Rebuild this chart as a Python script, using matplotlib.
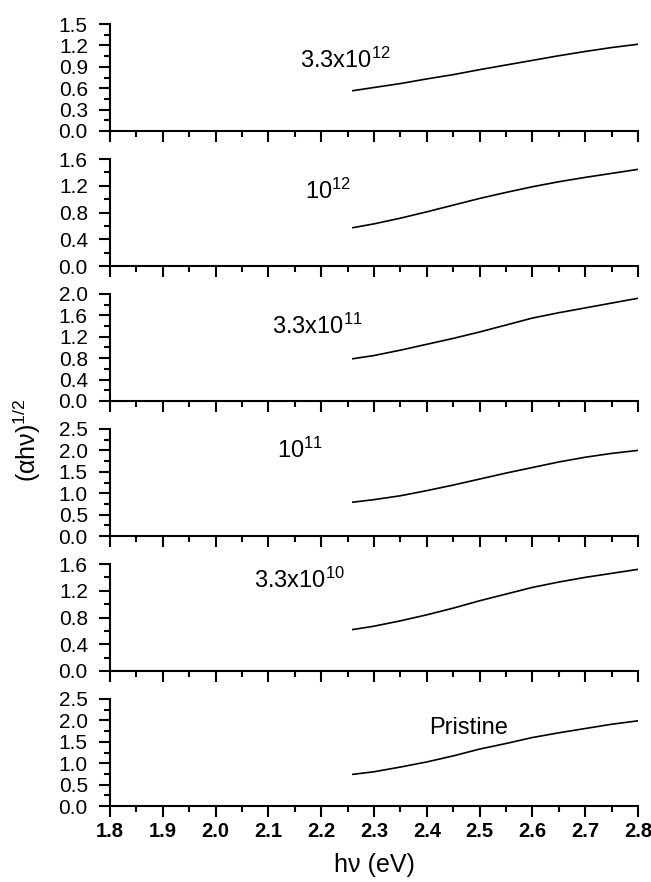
import numpy as np
import matplotlib
matplotlib.use("Agg")
import matplotlib.pyplot as plt
from matplotlib.ticker import MultipleLocator, FormatStrFormatter

plt.rcParams['font.family'] = ['Liberation Sans', 'DejaVu Sans']
plt.rcParams['mathtext.fontset'] = 'custom'
plt.rcParams['mathtext.rm'] = 'Liberation Sans'
plt.rcParams['mathtext.it'] = 'Liberation Sans'

# energia (eV)
energia = [2.26, 2.30, 2.35, 2.40, 2.45, 2.50, 2.55, 2.60, 2.65, 2.70, 2.75, 2.80]

# curvas (alpha h nu)^1/2 por fluencia, de arriba hacia abajo
f_33e12 = [0.565, 0.61, 0.665, 0.73, 0.79, 0.86, 0.925, 0.99, 1.055, 1.115, 1.17, 1.216]
f_1e12 = [0.573, 0.63, 0.715, 0.81, 0.91, 1.01, 1.10, 1.185, 1.26, 1.325, 1.385, 1.445]
f_33e11 = [0.79, 0.85, 0.95, 1.06, 1.17, 1.29, 1.42, 1.55, 1.65, 1.74, 1.83, 1.92]
f_1e11 = [0.79, 0.85, 0.94, 1.06, 1.19, 1.33, 1.47, 1.60, 1.73, 1.84, 1.93, 2.00]
f_33e10 = [0.62, 0.67, 0.75, 0.84, 0.94, 1.05, 1.15, 1.25, 1.33, 1.40, 1.46, 1.52]
pristina = [0.74, 0.80, 0.91, 1.03, 1.17, 1.33, 1.46, 1.60, 1.71, 1.81, 1.91, 1.99]

curvas = [f_33e12, f_1e12, f_33e11, f_1e11, f_33e10, pristina]
etiquetas = ["3.3x10$^{12}$", "10$^{12}$", "3.3x10$^{11}$", "10$^{11}$",
             "3.3x10$^{10}$", "Pristine"]
ymax = [1.5, 1.6, 2.0, 2.5, 1.6, 2.5]
paso = [0.3, 0.4, 0.4, 0.5, 0.4, 0.5]
# posicion de cada etiqueta (x izquierda, y de la linea base, en datos)
pos_etiqueta = [(2.16, 0.89), (2.169, 1.0), (2.107, 1.26), (2.116, 1.82),
                (2.072, 1.25), (2.404, 1.675)]

W, H = 651, 882
fig = plt.figure(figsize=(W / 100, H / 100), dpi=100)

izq, der = 110, 638
for i in range(6):
    base = 131 + 135 * i
    alto = 107
    ax = fig.add_axes([izq / W, 1 - base / H, (der - izq) / W, alto / H])
    ax.plot(energia, curvas[i], color="black", lw=1.2)
    ax.set_xlim(1.8, 2.8)
    ax.set_ylim(0, ymax[i])
    ax.xaxis.set_major_locator(MultipleLocator(0.1))
    ax.xaxis.set_minor_locator(MultipleLocator(0.05))
    ax.yaxis.set_major_locator(MultipleLocator(paso[i]))
    ax.yaxis.set_minor_locator(MultipleLocator(paso[i] / 2))
    ax.yaxis.set_major_formatter(FormatStrFormatter("%.1f"))
    ax.spines["top"].set_visible(False)
    ax.spines["right"].set_visible(False)
    for s in ["left", "bottom"]:
        ax.spines[s].set_linewidth(1.5)
    ax.tick_params(which="major", direction="out", length=8, width=1.5,
                   labelsize=15)
    ax.tick_params(which="minor", direction="out", length=4, width=1.5)
    ax.tick_params(axis="y", which="major", pad=8)
    ax.tick_params(axis="x", which="major", pad=3.5)
    if i < 5:
        ax.tick_params(axis="x", labelbottom=False)
    else:
        for t in ax.get_xticklabels():
            t.set_fontweight("bold")
            t.set_fontsize(14.5)
    x, y = pos_etiqueta[i]
    ax.text(x, y, etiquetas[i], fontsize=17, va="baseline", ha="left")
    ax.set_facecolor("none")

fig.text(27 / W, 1 - 440 / H, "(\u03b1h\u03bd)$^{1/2}$", rotation=90,
         fontsize=18, ha="center", va="center")
fig.text((izq + der) / 2 / W, 1 - 865 / H, "h\u03bd (eV)", fontsize=18,
         ha="center", va="center")

fig.savefig("out.png", dpi=100)
